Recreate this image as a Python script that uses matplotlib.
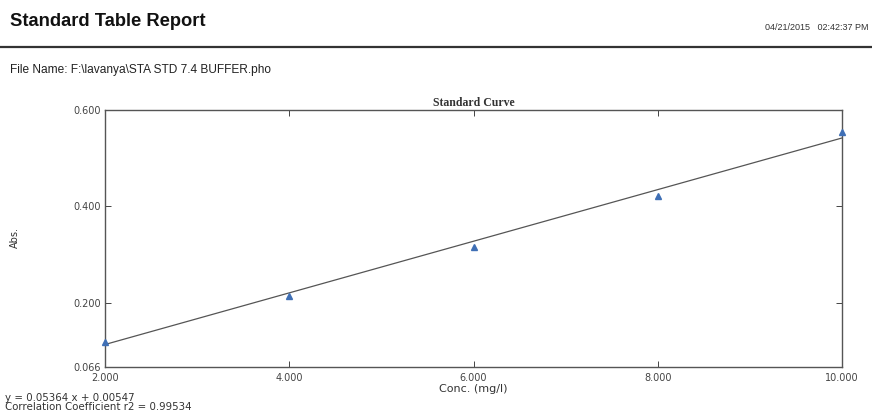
import matplotlib
matplotlib.use("Agg")
import matplotlib.pyplot as plt
import numpy as np
from matplotlib.ticker import FormatStrFormatter

# Data
conc = [2.0, 4.0, 6.0, 8.0, 10.0]
absorb = [0.117, 0.2125, 0.315, 0.421, 0.554]
slope = 0.05364
intercept = 0.00547
x_ticks = [2.0, 4.0, 6.0, 8.0, 10.0]
y_ticks = [0.066, 0.2, 0.4, 0.6]

plt.rcParams['font.family'] = ['Liberation Sans', 'DejaVu Sans']

fig = plt.figure(figsize=(8.72, 4.13), dpi=100)
W, H = 872, 413

def fx(px):
    return px / W

def fy(py):
    return 1 - py / H

# Header
fig.text(fx(10), fy(22), "Standard Table Report", fontsize=13.2, fontweight='bold',
         va='center', ha='left', color='#111111')
fig.text(fx(868), fy(28), "04/21/2015   02:42:37 PM", fontsize=6.5,
         va='center', ha='right', color='#333333')
fig.add_artist(plt.Line2D([0, 1], [fy(47), fy(47)], color='#333333', lw=1.6))
fig.text(fx(10), fy(70), "File Name: F:\\lavanya\\STA STD 7.4 BUFFER.pho", fontsize=8.6,
         va='center', ha='left', color='#222222')

# Axes
ax = fig.add_axes([fx(105), fy(367), fx(842) - fx(105), fy(110) - fy(367)])
ax.plot(conc, absorb, linestyle='none', marker='^', markersize=4.5,
        color='#3f6fb5', zorder=3, clip_on=False)
xl = np.array([min(conc), max(conc)])
ax.plot(xl, slope * xl + intercept, color='#555555', lw=0.9, zorder=2)

ax.set_xlim(2.0, 10.0)
ax.set_ylim(0.066, 0.6)
ax.set_xticks(x_ticks)
ax.set_yticks(y_ticks)
ax.xaxis.set_major_formatter(FormatStrFormatter('%.3f'))
ax.yaxis.set_major_formatter(FormatStrFormatter('%.3f'))
ax.tick_params(direction='in', length=4, width=0.7, colors='#444444',
               top=True, right=True)
for lab in ax.get_xticklabels() + ax.get_yticklabels():
    lab.set_family(['DejaVu Sans'])
    lab.set_fontsize(7.0)
ax.tick_params(axis='x', pad=4)
ax.tick_params(axis='y', pad=3)
for s in ax.spines.values():
    s.set_linewidth(1.0)
    s.set_color('#555555')

ax.set_title("Standard Curve", fontsize=8.5, family=['Liberation Serif', 'DejaVu Serif'],
             fontweight='bold', pad=3, color='#333333')
ax.set_xlabel("Conc. (mg/l)", fontsize=8, labelpad=1, color='#333333',
              family=['DejaVu Sans'])
fig.text(fx(15), fy(237), "Abs.", fontsize=7, rotation=90, va='center', ha='center',
         color='#333333', family=['DejaVu Sans'])

# Equation text
fig.text(fx(5), fy(398), "y = %.5f x + %.5f" % (slope, intercept), fontsize=7.4,
         va='center', ha='left', color='#333333', family=['DejaVu Sans'])
fig.text(fx(5), fy(407), "Correlation Coefficient r2 = 0.99534", fontsize=7.4,
         va='center', ha='left', color='#333333', family=['DejaVu Sans'])

fig.savefig("out.png", dpi=100)
